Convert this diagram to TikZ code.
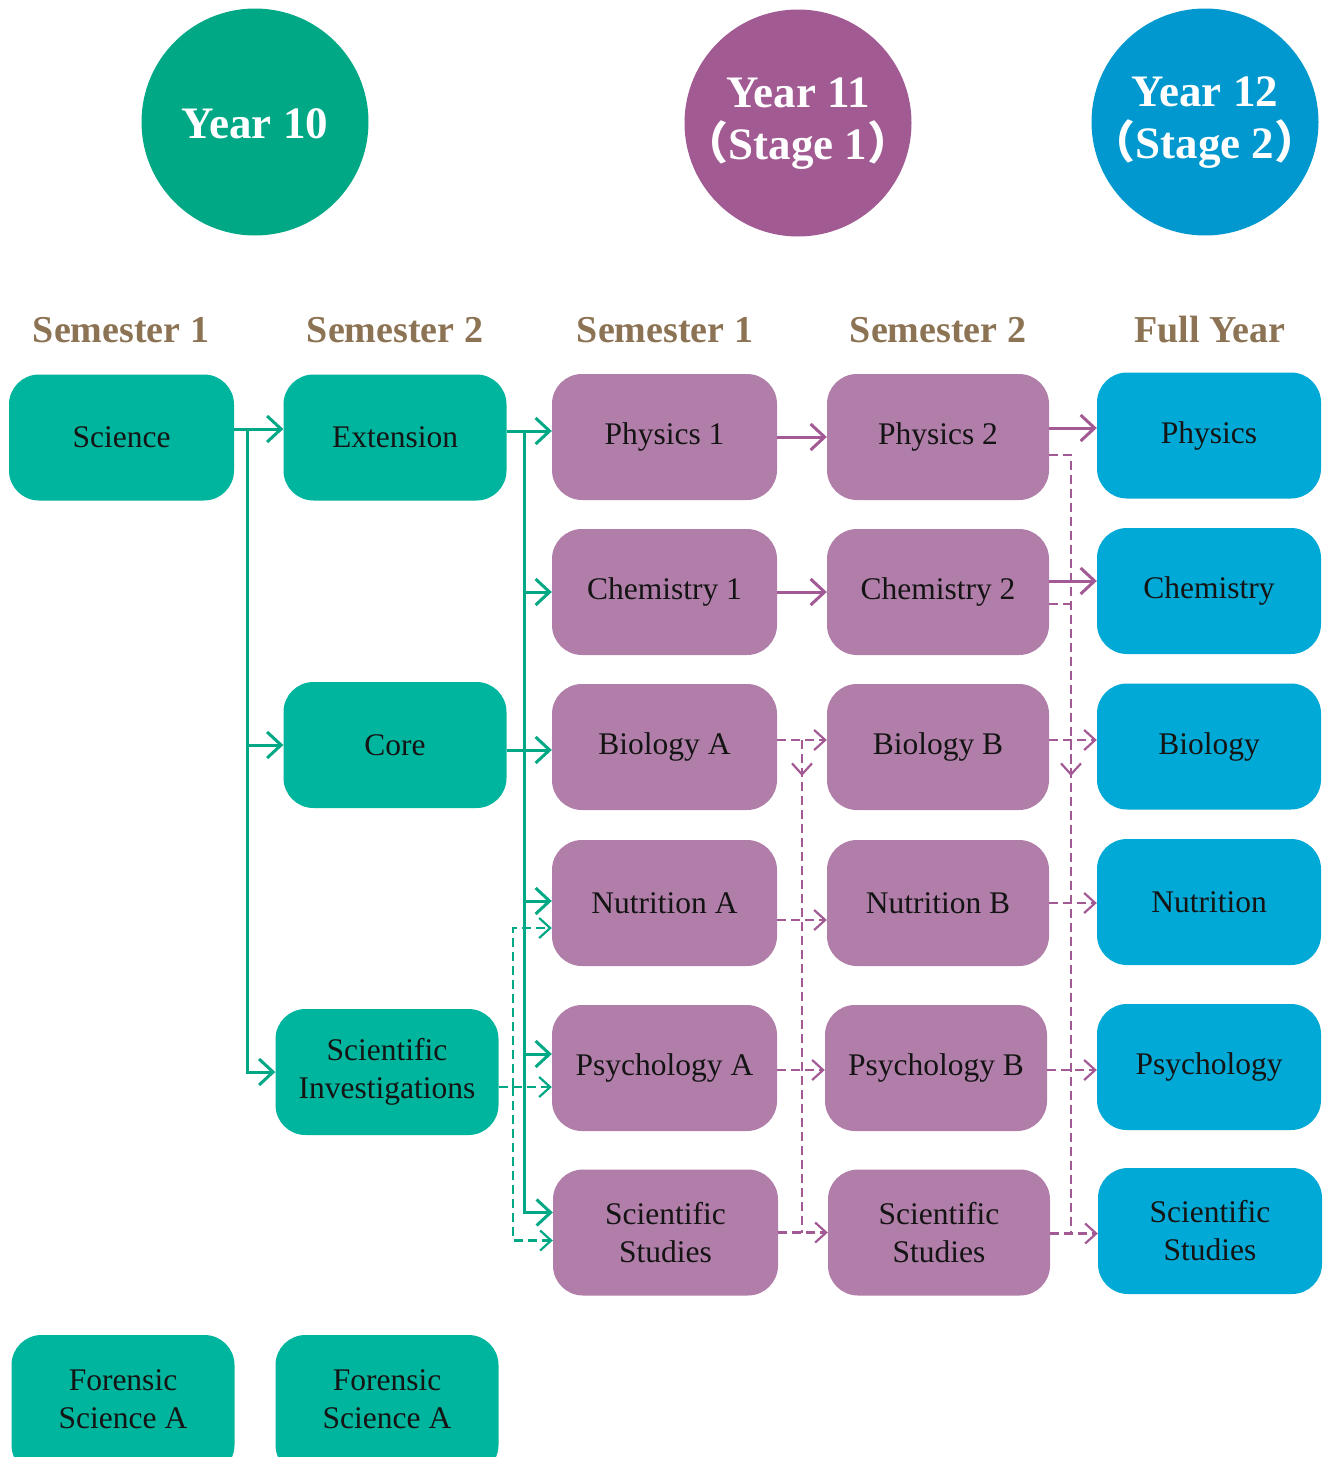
\documentclass[tikz,border=0pt]{standalone}
\usepackage{fontspec}
\setmainfont{Liberation Serif}
\newfontfamily\cjk{Noto Sans CJK SC}
\usetikzlibrary{arrows.meta}

\definecolor{gcirc}{HTML}{00A886}
\definecolor{pcirc}{HTML}{A25A93}
\definecolor{bcirc}{HTML}{0098CE}
\definecolor{gbox}{HTML}{00B59D}
\definecolor{pbox}{HTML}{B07EA8}
\definecolor{bbox}{HTML}{00A9D6}
\definecolor{hdr}{HTML}{8C7354}
\definecolor{garrc}{HTML}{00A886}
\definecolor{parrc}{HTML}{A35A94}
\definecolor{boxtxt}{HTML}{141414}

\newcommand\coursefont{\fontsize{31.5}{38}\selectfont}

\tikzset{
  x=1pt, y=-1pt,
  course/.style={rounded corners=30pt, minimum height=126pt, inner sep=0pt,
    align=center, text=boxtxt, font=\coursefont},
  gcourse/.style={course, fill=gbox, minimum width=223pt},
  pcourse/.style={course, fill=pbox, minimum width=225pt},
  bcourse/.style={course, fill=bbox, minimum width=224pt},
  yearcirc/.style={circle, minimum size=227pt, inner sep=0pt},
  yeartxt/.style={text=white, align=center, inner sep=0pt,
    font=\bfseries\fontsize{45}{52}\selectfont},
  semhdr/.style={text=hdr, font=\bfseries\fontsize{38}{42}\selectfont},
  solidarr/.style={line width=3pt, -{Straight Barb[length=14pt,width=26pt,line width=3pt]}},
  dasharr/.style={line width=2.4pt, dash pattern=on 9pt off 5pt,
    -{Straight Barb[length=11pt,width=20pt,line width=2.2pt]}},
  dashln/.style={line width=2.4pt, dash pattern=on 9pt off 5pt},
  gsolid/.style={draw=garrc, solidarr},
  gdash/.style={draw=garrc, dasharr},
  psolid/.style={draw=parrc, solidarr},
  pdash/.style={draw=parrc, dasharr},
  pdashln/.style={draw=parrc, dashln},
  lbl/.style={align=center, text=boxtxt, font=\coursefont},
}

\begin{document}
\begin{tikzpicture}
\useasboundingbox[fill=white] (0,0) rectangle (1325,1457);

% year circles
\node[yearcirc, fill=gcirc] (y10) at (255,122) {};
\node[yearcirc, fill=pcirc] (y11) at (798,123) {};
\node[yearcirc, fill=bcirc] (y12) at (1205,122) {};
\node[yeartxt] (y10t) at (255,124) {Year 10};
\node[yeartxt] (y11t) at (798,124) {Year 11\\{\cjk（}Stage 1{\cjk）}};
\node[yeartxt] (y12t) at (1205,123) {Year 12\\{\cjk（}Stage 2{\cjk）}};

% semester headings
\node[semhdr] (h1) at (121,330) {Semester 1};
\node[semhdr] (h2) at (395,330) {Semester 2};
\node[semhdr] (h3) at (665,330) {Semester 1};
\node[semhdr] (h4) at (938,330) {Semester 2};
\node[semhdr] (h5) at (1210,330) {Full Year};

% year 10 courses
\node[gcourse, minimum width=225pt] (sci) at (121.5,437.5) {Science};
\node[gcourse] (ext) at (395,437.5) {Extension};
\node[gcourse] (core) at (395,745) {Core};
\node[gcourse] (inv) at (387,1072) {Scientific\\Investigations};
\node[gcourse, minimum height=140pt] (forA) at (123,1405) {};
\node[gcourse, minimum height=140pt] (forB) at (387,1405) {};
\node[lbl] (forAt) at (123,1399) {Forensic\\Science A};
\node[lbl] (forBt) at (387,1399) {Forensic\\Science A};

% year 11 semester 1
\node[pcourse] (phA) at (664.5,437) {Physics 1};
\node[pcourse] (chA) at (664.5,592) {Chemistry 1};
\node[pcourse] (biA) at (664.5,747) {Biology A};
\node[pcourse] (nuA) at (664.5,903) {Nutrition A};
\node[pcourse] (psA) at (664.5,1068) {Psychology A};
\node[pcourse] (ssA) at (665.5,1232.5) {Scientific\\Studies};

% year 11 semester 2
\node[pcourse, minimum width=222pt] (phB) at (938,437) {Physics 2};
\node[pcourse, minimum width=222pt] (chB) at (938,592) {Chemistry 2};
\node[pcourse, minimum width=222pt] (biB) at (938,747) {Biology B};
\node[pcourse, minimum width=222pt] (nuB) at (938,903) {Nutrition B};
\node[pcourse, minimum width=222pt] (psB) at (936,1068) {Psychology B};
\node[pcourse, minimum width=222pt] (ssB) at (939,1232.5) {Scientific\\Studies};

% year 12 full year
\node[bcourse] (phC) at (1209,435.5) {Physics};
\node[bcourse] (chC) at (1209,591) {Chemistry};
\node[bcourse] (biC) at (1209,746.5) {Biology};
\node[bcourse] (nuC) at (1209,902) {Nutrition};
\node[bcourse] (psC) at (1209,1067) {Psychology};
\node[bcourse] (ssC) at (1210,1231) {Scientific\\Studies};

% ---- year 10 pathways ----
\coordinate (ta) at (247,429);
\draw[gsolid] (sci.east |- ta) -- (ext.west |- ta);
\draw[gsolid] (ta) |- (core.west);
\draw[gsolid] (ta) |- (inv.west);

\coordinate (tb) at (524,431);
\draw[gsolid] (ext.east |- tb) -- (phA.west |- tb);
\draw[gsolid] (tb) |- (chA.west);
\draw[gsolid] (tb) |- ([yshift=2pt]nuA.west);
\draw[gsolid] (tb) |- ([yshift=14pt]psA.west);
\draw[gsolid] (tb) |- ([yshift=20pt]ssA.west);
\draw[gsolid] ([yshift=-5pt]core.east) -- ([yshift=-5pt]core.east -| biA.west);

\coordinate (tc) at (513,1087);
\draw[gdash] ([yshift=-15pt]inv.east) -- ([yshift=-15pt]inv.east -| psA.west);
\draw[gdash] (tc) |- ([yshift=-25pt]nuA.west);
\draw[gdash] (tc) |- ([yshift=-8pt]ssA.west);

% ---- year 11 semester 1 to semester 2 ----
\draw[psolid] (phA.east) -- (phB.west);
\draw[psolid] (chA.east) -- (chB.west);
\coordinate (td) at (802,740);
\coordinate (tdEnd) at (802,1232.5);
\draw[pdash] ([yshift=7pt]biA.east) -- ([yshift=7pt]biB.west);
\draw[pdash] ([yshift=-17pt]nuA.east) -- ([yshift=-17pt]nuA.east -| nuB.west);
\draw[pdash] ([yshift=-2pt]psA.east) -- ([yshift=-2pt]psA.east -| psB.west);
\draw[pdash] (ssA.east) -- (ssA.east -| ssB.west);
\draw[pdashln] (td) -- (tdEnd);
\draw[pdash] (td) -- ++(0,36);

% ---- year 11 to year 12 ----
\draw[psolid] ([yshift=9pt]phB.east) -- ([yshift=9pt]phB.east -| phC.west);
\draw[psolid] ([yshift=11pt]chB.east) -- ([yshift=11pt]chB.east -| chC.west);
\coordinate (teEnd) at (1071,1232.5);
\draw[pdashln] ([yshift=-18pt]phB.east) -| (teEnd);
\draw[pdashln] ([yshift=-12pt]chB.east) -- ([yshift=-12pt]chB.east -| teEnd);
\draw[pdash] ([yshift=7pt]biB.east) -- ([yshift=7pt]biB.east -| biC.west);
\draw[pdash] (nuB.east) -- (nuB.east -| nuC.west);
\draw[pdash] ([yshift=-2pt]psB.east) -- ([yshift=-2pt]psB.east -| psC.west);
\draw[pdash] ([yshift=-1pt]ssB.east) -- ([yshift=-1pt]ssB.east -| ssC.west);
\coordinate (te) at (1071,740);
\draw[pdash] (te) -- ++(0,36);
\end{tikzpicture}
\end{document}
